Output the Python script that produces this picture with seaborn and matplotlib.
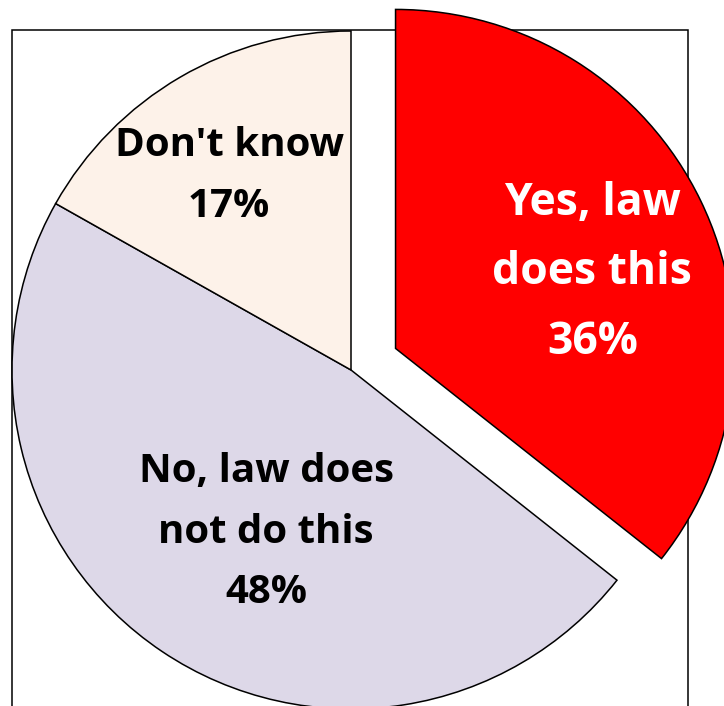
import matplotlib
matplotlib.use("Agg")
import matplotlib.pyplot as plt
import seaborn as sns
import numpy as np
from matplotlib.patches import Rectangle

# data, clockwise from 12 o'clock
labels = ["Yes, law\ndoes this", "No, law does\nnot do this", "Don't know"]
shares = [36, 48, 17]
pct_text = ["36%", "48%", "17%"]

# styling
colors = ["#FF0000", "#DDD8E8", "#FDF2E9"]
text_colors = ["white", "black", "black"]
explode_frac = [0.146, 0, 0]
label_dist = [0.622, 0.54, 0.676]
label_turn = [-4.8, 6.2, 1.8]
label_size = [32, 29, 29]

sns.set_style("white")
plt.rcParams["font.family"] = ["Open Sans", "DejaVu Sans"]

W, H = 724, 706
fig = plt.figure(figsize=(W / 100, H / 100), dpi=100)
ax = fig.add_axes([0, 0, 1, 1])

# plot-area frame (runs off the bottom of the image)
ax.add_patch(Rectangle((12, -20), 676, 696, fill=False,
                       edgecolor="black", lw=1.1, zorder=0))

radius = 339
# pie's explode is in data units, so scale by the radius
wedges, _ = ax.pie(shares, colors=colors,
                   explode=[e * radius for e in explode_frac],
                   startangle=90, counterclock=False,
                   center=(351, 336), radius=radius,
                   wedgeprops=dict(edgecolor="black", linewidth=1.1))

for w, lab, pct, tc, d, turn, fs in zip(wedges, labels, pct_text, text_colors,
                                         label_dist, label_turn, label_size):
    ang = np.deg2rad((w.theta1 + w.theta2) / 2 + turn)
    cx, cy = w.center
    x = cx + d * radius * np.cos(ang)
    y = cy + d * radius * np.sin(ang)
    ax.text(x, y, f"{lab}\n{pct}", ha="center", va="center", color=tc,
            fontsize=fs, fontweight="bold", linespacing=1.72)

ax.set_xlim(0, W)
ax.set_ylim(0, H)
ax.set_aspect("auto")
ax.axis("off")

fig.savefig("out.png", dpi=100, facecolor="white")
plt.close(fig)
